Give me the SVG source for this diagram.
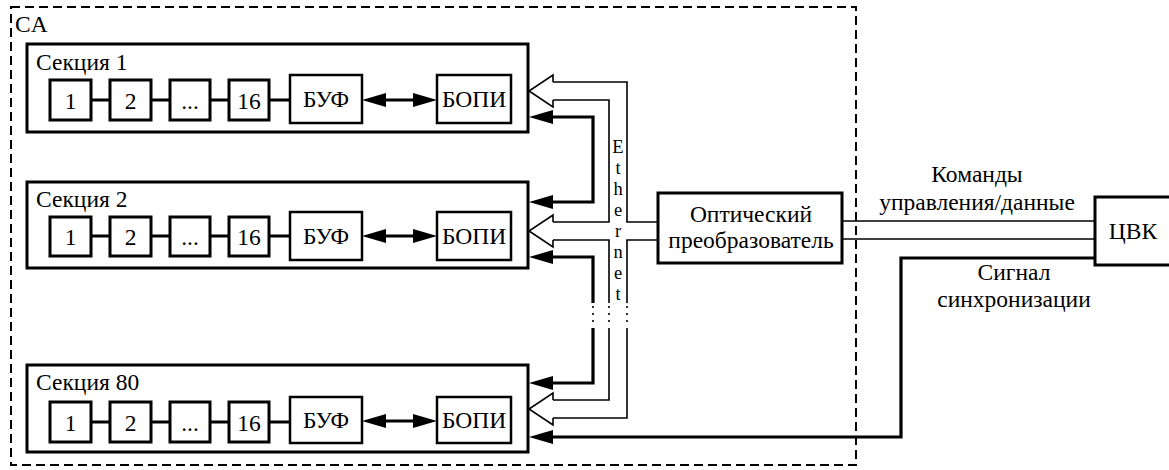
<svg xmlns="http://www.w3.org/2000/svg" width="1169" height="470" viewBox="0 0 1169 470">
<style>
text{font-family:'Times New Roman',Times,'Liberation Serif','DejaVu Serif','Noto Serif',serif;fill:#000}
.t{font-size:23.5px}
.e{font-size:18.5px}
.c{text-anchor:middle}
.sec{fill:#fff;stroke:#000;stroke-width:3}
.sb{fill:#fff;stroke:#000;stroke-width:3}
.bb{fill:#fff;stroke:#000;stroke-width:2.5}
.thin{fill:none;stroke:#000;stroke-width:1.6}
.thick{fill:none;stroke:#000;stroke-width:3.2}
.frame{fill:none;stroke:#000;stroke-width:2;stroke-dasharray:9 5}
.dots{fill:none;stroke:#000;stroke-width:1.6;stroke-dasharray:2 5}
</style>
<defs>
<marker id="ah" markerUnits="userSpaceOnUse" markerWidth="24" markerHeight="14" viewBox="0 0 24 14" refX="14" refY="7" orient="auto-start-reverse"><path d="M0,0 L24,7 L0,14 z" fill="#000"/></marker>
</defs>
<rect width="1169" height="470" fill="#fff"/>

<g id="ca">
<rect class="frame" x="11" y="7" width="845" height="458"/>
<text class="t" x="15" y="32">CA</text>
</g>

<g id="section1">
<rect class="sec" x="27" y="44" width="501" height="88"/>
<text class="t" x="36" y="70">Секция 1</text>
<rect class="sb" x="50" y="80" width="41" height="40"/><text class="t c" x="70.5" y="109">1</text>
<rect class="sb" x="110" y="80" width="41" height="40"/><text class="t c" x="130.5" y="109">2</text>
<rect class="sb" x="170" y="80" width="40" height="40"/><text class="t c" x="190" y="109">...</text>
<rect class="sb" x="229" y="80" width="40" height="40"/><text class="t c" x="249" y="109">16</text>
<rect class="bb" x="290" y="75" width="72" height="48"/><text class="t c" x="326" y="107">БУФ</text>
<rect class="bb" x="437" y="75" width="74" height="48"/><text class="t c" x="474" y="107">БОПИ</text>
<path class="thick" d="M91 100H110M151 100H170M210 100H229M269 100H290"/>
<path class="thick" d="M372 100H427" marker-start="url(#ah)" marker-end="url(#ah)"/>
</g>

<g id="section2">
<rect class="sec" x="27" y="182" width="501" height="86"/>
<text class="t" x="36" y="207">Секция 2</text>
<rect class="sb" x="50" y="217" width="41" height="39"/><text class="t c" x="70.5" y="245">1</text>
<rect class="sb" x="110" y="217" width="41" height="39"/><text class="t c" x="130.5" y="245">2</text>
<rect class="sb" x="170" y="217" width="40" height="39"/><text class="t c" x="190" y="245">...</text>
<rect class="sb" x="229" y="217" width="40" height="39"/><text class="t c" x="249" y="245">16</text>
<rect class="bb" x="290" y="212" width="72" height="48"/><text class="t c" x="326" y="244">БУФ</text>
<rect class="bb" x="437" y="212" width="74" height="48"/><text class="t c" x="474" y="244">БОПИ</text>
<path class="thick" d="M91 236H110M151 236H170M210 236H229M269 236H290"/>
<path class="thick" d="M372 236H427" marker-start="url(#ah)" marker-end="url(#ah)"/>
</g>

<g id="section80">
<rect class="sec" x="27" y="365" width="501" height="87"/>
<text class="t" x="36" y="390">Секция 80</text>
<rect class="sb" x="50" y="402" width="41" height="40"/><text class="t c" x="70.5" y="431">1</text>
<rect class="sb" x="110" y="402" width="41" height="40"/><text class="t c" x="130.5" y="431">2</text>
<rect class="sb" x="170" y="402" width="40" height="40"/><text class="t c" x="190" y="431">...</text>
<rect class="sb" x="229" y="402" width="40" height="40"/><text class="t c" x="249" y="431">16</text>
<rect class="bb" x="290" y="397" width="72" height="46"/><text class="t c" x="326" y="428">БУФ</text>
<rect class="bb" x="437" y="397" width="74" height="46"/><text class="t c" x="474" y="428">БОПИ</text>
<path class="thick" d="M91 422H110M151 422H170M210 422H229M269 422H290"/>
<path class="thick" d="M372 421H427" marker-start="url(#ah)" marker-end="url(#ah)"/>
</g>

<g id="converter">
<rect class="sec" x="658" y="193" width="184" height="70"/>
<text class="t c" x="751" y="222">Оптический</text>
<text class="t c" x="751" y="248">преобразователь</text>
</g>

<g id="cvk">
<rect class="sec" x="1095" y="197" width="80" height="68"/>
<text class="t c" x="1133" y="239">ЦВК</text>
</g>

<g id="connectors">
<path class="thin" d="M553 82V75L529 91L553 107V100"/>
<path class="thin" d="M553 222V215L529 231L553 247V240"/>
<path class="thin" d="M553 400V393L529 409L553 425V418"/>
<path class="thin" d="M553 82H627V222H658"/>
<path class="thin" d="M553 100H609V222H553"/>
<path class="thin" d="M553 240H609V303"/>
<path class="thin" d="M658 240H627V303"/>
<path class="thin" d="M609 328V400H553"/>
<path class="thin" d="M627 328V418H553"/>
<path class="dots" d="M609 306V326M627 306V326M593 306V326"/>
<path class="thick" d="M539 117H593V202H539" marker-start="url(#ah)" marker-end="url(#ah)"/>
<path class="thick" d="M593 303V257H539" marker-end="url(#ah)"/>
<path class="thick" d="M593 328V383H539" marker-end="url(#ah)"/>
<path class="thick" d="M1095 258H901V437H539" marker-end="url(#ah)"/>
<path class="thin" d="M842 221H1095M842 239H1095"/>
</g>

<g id="labels">
<text class="e c" x="618" y="153">E</text>
<text class="e c" x="618" y="174">t</text>
<text class="e c" x="618" y="195">h</text>
<text class="e c" x="618" y="216">e</text>
<text class="e c" x="618" y="237">r</text>
<text class="e c" x="618" y="258">n</text>
<text class="e c" x="618" y="279">e</text>
<text class="e c" x="618" y="300">t</text>
<text class="t c" x="977" y="182">Команды</text>
<text class="t c" x="977" y="210">управления/данные</text>
<text class="t c" x="1014" y="280">Сигнал</text>
<text class="t c" x="1014" y="307">синхронизации</text>
</g>
</svg>
